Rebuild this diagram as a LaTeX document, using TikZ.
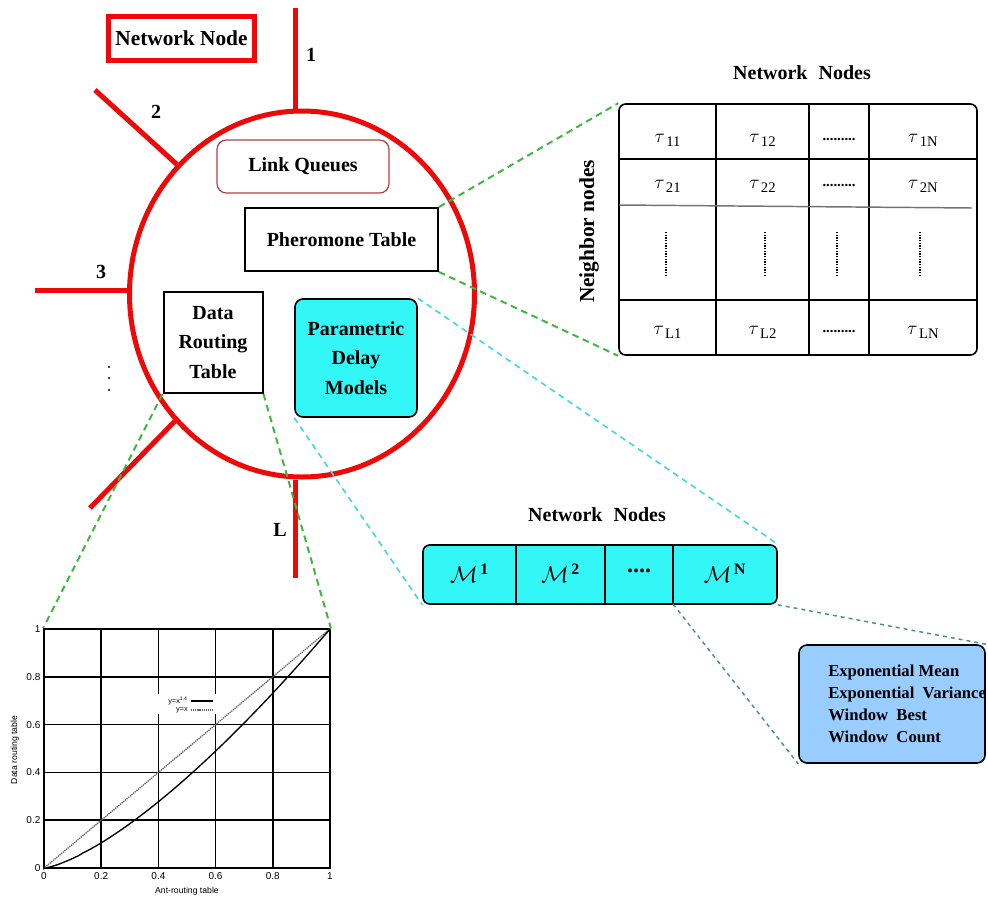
\documentclass[tikz,border=0pt]{standalone}
\usepackage{fontspec}
\setmainfont{Liberation Serif}
\newfontfamily\plotfont{Liberation Sans}
\usetikzlibrary{shapes.geometric,calc}

\definecolor{nodered}{RGB}{238,8,8}
\definecolor{lqborder}{RGB}{176,64,64}
\definecolor{cyanfill}{RGB}{51,246,246}
\definecolor{bluefill}{RGB}{153,204,255}
\definecolor{greendash}{RGB}{61,184,61}
\definecolor{cyandash}{RGB}{64,216,224}
\definecolor{tealdash}{RGB}{74,143,143}

\newcommand\tauij[1]{{\fontsize{15}{15}\selectfont$\tau$}\kern1pt\raisebox{-3pt}{\fontsize{11}{11}\selectfont #1}}
\newcommand\mcell[1]{{\fontsize{17}{17}\selectfont$\mathcal{M}^{\,\mathbf{#1}}$}}

\begin{document}
\begin{tikzpicture}[x=0.75pt,y=-0.75pt,
  bfont/.style={font=\fontsize{15}{22}\selectfont\bfseries},
  link/.style={draw=nodered,line width=3.75pt},
  num/.style={font=\fontsize{15}{18}\selectfont\bfseries},
  blackbox/.style={draw,line width=1.5pt,inner sep=0pt,align=center,bfont},
  tabline/.style={line width=1.1pt},
  vdotline/.style={line width=1pt,dash pattern=on 1pt off 1pt},
  cellfont/.style={font=\fontsize{11}{11}\selectfont\bfseries},
  gdash/.style={draw=greendash,line width=1.5pt,dash pattern=on 5pt off 3.5pt},
  cdash/.style={draw=cyandash,line width=1.2pt,dash pattern=on 4.5pt off 3.5pt},
  tdash/.style={draw=tealdash,line width=1.1pt,dash pattern=on 3pt off 3pt},
  grid/.style={line width=1.3pt},
  tick/.style={font=\plotfont\fontsize{7.5}{7.5}\selectfont,inner sep=1pt}]
\useasboundingbox (0,0) rectangle (988,896);

% ---- the network node and its links ----
\node[ellipse,draw=nodered,line width=3.75pt,inner sep=0pt,
      minimum width=345*0.75pt,minimum height=366*0.75pt] (nd) at (302,294) {};

\coordinate (e1) at (295,8);
\coordinate (e2) at (95,90);
\coordinate (e3) at (35,290);
\coordinate (e4) at (90,508);
\coordinate (eL) at (295,578);
\draw[link] (e1) -- (e1 |- nd.north);
\draw[link] (e2) -- (nd.134);
\draw[link] (e3) -- (e3 -| nd.west);
\draw[link] (e4) -- (nd.225);
\draw[link] (eL) -- (eL |- nd.south);

\node[num] (l1) at (311,55) {1};
\node[num] (l2) at (156,112) {2};
\node[num] (l3) at (101,272) {3};
\node[num] (lL) at (280,530) {L};
\foreach \yy in {367,378,390} \fill (109,\yy) circle (0.8pt);

\node[draw=nodered,line width=3.75pt,inner sep=0pt,minimum width=146*0.75pt,
      minimum height=44*0.75pt,font=\fontsize{16}{20}\selectfont\bfseries]
      (title) at (181.5,38) {Network Node};

\node[draw=lqborder,line width=0.9pt,rounded corners=7pt,inner sep=0pt,
      minimum width=172*0.75pt,minimum height=53*0.75pt,bfont] (lq) at (303,166.5) {Link Queues};
\node[blackbox,minimum width=193*0.75pt,minimum height=63*0.75pt] (pher) at (341.5,239.5) {Pheromone Table};
\node[blackbox,minimum width=99*0.75pt,minimum height=101*0.75pt] (drt) at (213,342.5) {Data\\Routing\\Table};
\node[draw,line width=1.2pt,fill=cyanfill,rounded corners=6pt,inner sep=0pt,align=center,bfont,
      minimum width=122*0.75pt,minimum height=118*0.75pt] (pdm) at (356,358) {Parametric\\Delay\\Models};

% ---- pheromone table ----
\node[font=\fontsize{15}{18}\selectfont\bfseries] (pttitle) at (802,73) {Network\hspace{0.55em}Nodes};
\node[rotate=90,font=\fontsize{16}{18}\selectfont\bfseries] (ptside) at (589,231.5) {Neighbor nodes};
\node[draw,line width=1.2pt,rounded corners=5pt,inner sep=0pt,
      minimum width=358*0.75pt,minimum height=251*0.75pt] (pt) at (798,229.5) {};
\foreach \xx in {716,809,869} \draw[tabline] (\xx,104) -- (\xx,355);
\draw[tabline] (619,159) -- (977,159);
\draw[tabline,black!55] (619,205) -- (972,208);
\draw[tabline] (619,300) -- (977,300);

\node (t11) at (667.5,140) {\tauij{11}};
\node (t12) at (762.5,140) {\tauij{12}};
\node[cellfont] (t1d) at (839,140) {.........};
\node (t1N) at (923,140) {\tauij{1N}};
\node (t21) at (667.5,186) {\tauij{21}};
\node (t22) at (762.5,186) {\tauij{22}};
\node[cellfont] (t2d) at (839,186) {.........};
\node (t2N) at (923,186) {\tauij{2N}};
\node (tL1) at (667.5,332) {\tauij{L1}};
\node (tL2) at (762.5,332) {\tauij{L2}};
\node[cellfont] (tLd) at (839,332) {.........};
\node (tLN) at (923,332) {\tauij{LN}};
\foreach \xx in {666,765,837,920} \draw[vdotline] (\xx,232) -- (\xx,277);

% ---- delay model row ----
\node[font=\fontsize{15}{18}\selectfont\bfseries] (mtitle) at (597,515) {Network\hspace{0.55em}Nodes};
\node[draw,line width=1.2pt,fill=cyanfill,rounded corners=5pt,inner sep=0pt,
      minimum width=354*0.75pt,minimum height=59*0.75pt] (mb) at (600,574.5) {};
\foreach \xx in {516,605,673} \draw[tabline] (\xx,545) -- (\xx,604);
\coordinate (mdiv) at (673,604);
\node (m1) at (469.5,573) {\mcell{1}};
\node (m2) at (560.5,573) {\mcell{2}};
\node[font=\fontsize{18}{18}\selectfont\bfseries] (md) at (639,571) {....};
\node (mN) at (725,573) {\mcell{N}};

\node[draw,line width=1.2pt,fill=bluefill,rounded corners=6pt,inner sep=0pt,
      minimum width=186*0.75pt,minimum height=118*0.75pt] (det) at (892,704) {};
\node[anchor=west,align=left,inner sep=0pt,font=\fontsize{12.5}{16.5}\selectfont\bfseries] (dtxt) at (828,704)
  {Exponential Mean\\Exponential\hspace{0.5em}Variance\\Window\hspace{0.5em}Best\\Window\hspace{0.5em}Count};

% ---- plot of the data routing table ----
\node[draw,line width=1.3pt,inner sep=0pt,minimum width=286*0.75pt,minimum height=239*0.75pt] (pl) at (187,748.5) {};
\foreach \v in {0.2,0.4,0.6,0.8} {
  \draw[grid] ({44+286*\v},629) -- ({44+286*\v},868);
  \draw[grid] (44,{868-239*\v}) -- (330,{868-239*\v});
}
\foreach \v/\lab [count=\i] in {0/0,0.2/0.2,0.4/0.4,0.6/0.6,0.8/0.8,1/1} {
  \node[tick,anchor=east] (yt\i) at (42,{868-239*\v}) {\lab};
  \node[tick,anchor=north] (xt\i) at ({44+286*\v},871) {\lab};
}
\node[tick,rotate=90,font=\plotfont\fontsize{6.5}{6.5}\selectfont] (ylab) at (15,750) {Data routing table};
\node[tick,anchor=north,font=\plotfont\fontsize{6.5}{6.5}\selectfont] (xlab) at (187,886) {Ant-routing table};

\fill[white] (152,694) rectangle (222,714);
\node[inner sep=0pt,anchor=east,font=\plotfont\fontsize{5.5}{5.5}\selectfont] (lg1) at (188,701) {y=x\textsuperscript{1.4}};
\node[inner sep=0pt,anchor=east,font=\plotfont\fontsize{5.5}{5.5}\selectfont] (lg2) at (188,710) {y=x};
\draw[line width=0.9pt] (191,701) -- (213,701);
\draw[black!60,line width=0.8pt,dash pattern=on 0.8pt off 0.6pt] (191,710) -- (213,710);

\draw[black!60,line width=1pt,dash pattern=on 1pt off 0.6pt] (pl.south west) -- (pl.north east);
\draw[line width=1pt] (pl.south west) -- plot[domain=0.02:1,samples=60] ({44+286*\x},{868-239*(\x^1.4)});

% ---- zoom connectors ----
\draw[gdash] (pher.north east) -- (pt.north west);
\draw[gdash] (pher.south east) -- (pt.south west);
\draw[gdash] (drt.south west) -- (pl.north west);
\draw[gdash] (drt.south east) -- (pl.north east);
\draw[cdash] (pdm.north east) -- (mb.north east);
\draw[cdash] (pdm.south west) -- (mb.south west);
\draw[tdash] (mb.south east) -- (det.north east);
\draw[tdash] (mdiv) -- (det.south west);
\end{tikzpicture}
\end{document}
